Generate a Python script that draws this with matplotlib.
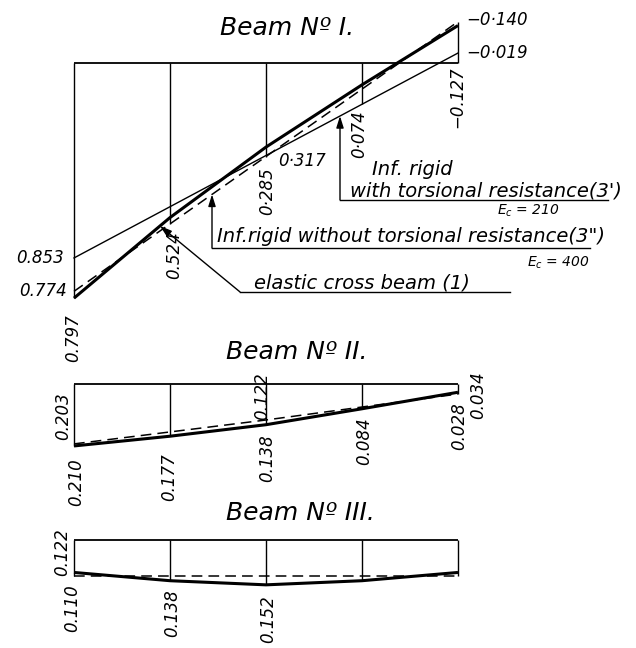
import numpy as np
import matplotlib.pyplot as plt

plt.rcParams['font.family'] = ['DejaVu Sans']
plt.rcParams['mathtext.fontset'] = 'dejavusans'

# girder positions across the bridge (girder 1 .. 5)
girders = [0, 1, 2, 3, 4]

# Beam I : influence ordinates
b1_elastic = [0.797, 0.524, 0.285, 0.074, -0.127]   # elastic cross beam (1)
b1_rigid_x = [0, 2, 4]
b1_rigid = [0.774, 0.317, -0.140]                   # inf. rigid, no torsion (3")
b1_tors_x = [0, 4]
b1_tors = [0.853, -0.019]                           # inf. rigid with torsion (3')

# Beam II
b2_elastic = [0.210, 0.177, 0.138, 0.084, 0.028]
b2_rigid_x = [0, 2, 4]
b2_rigid = [0.203, 0.122, 0.034]

# Beam III
b3_elastic = [0.110, 0.138, 0.152, 0.138, 0.110]
b3_rigid_x = [0, 4]
b3_rigid = [0.122, 0.122]

W, H = 636, 648
X0, DX = 74, 96          # first girder / spacing in pixels
S = 295                  # pixels per unit ordinate
TORS_ZERO, TORS_S = 57.5, 235   # line (3') has its own scale

fig = plt.figure(figsize=(W / 100, H / 100), dpi=100)


def beam_axes(top, bottom, zero, scale=S):
    ax = fig.add_axes([0, 1 - bottom / H, 1, (bottom - top) / H])
    ax.set_xlim(-X0 / DX, (W - X0) / DX)
    ax.set_ylim((bottom - zero) / scale, (top - zero) / scale)
    ax.set_axis_off()
    return ax


def fmt(v, sep='.'):
    s = f'{abs(v):.3f}'.replace('.', sep)
    return ('\u2212' + s) if v < 0 else s


def label(ax, x, y, s, dx, dy, rot=90, ha='center', va='top', size=12):
    ax.annotate(s, (x, y), xytext=(dx, dy), textcoords='offset pixels',
                rotation=rot, ha=ha, va=va, fontsize=size, style='italic')


def verticals(ax, series):
    inv = ax.transData.inverted()
    for xi in girders:
        ys = [ax.transData.transform((xi, 0))[1]]
        for a, xs, vs in series:
            ys.append(a.transData.transform((xi, np.interp(xi, xs, vs)))[1])
        lo = inv.transform((0, min(ys)))[1]
        hi = inv.transform((0, max(ys)))[1]
        ax.vlines(xi, lo, hi, color='k', lw=1.0)
    ax.hlines(0, girders[0], girders[-1], color='k', lw=1.3)


def draw_beam(ax, elastic, rx, rigid):
    ax.plot(girders, elastic, color='k', lw=2.2, solid_capstyle='butt', zorder=3)
    ax.plot(rx, rigid, color='k', lw=1.1, ls=(0, (7, 4)), zorder=2)


arrow = dict(arrowstyle='-|>,head_length=0.7,head_width=0.22', color='k',
             lw=1.0, shrinkA=0, shrinkB=0)

# ---------------- Beam I ----------------
ax1 = beam_axes(0, 335, 63)
ax1t = ax1.twinx()
ax1t.set_ylim((335 - TORS_ZERO) / TORS_S, (0 - TORS_ZERO) / TORS_S)
ax1t.set_axis_off()

draw_beam(ax1, b1_elastic, b1_rigid_x, b1_rigid)
ax1t.plot(b1_tors_x, b1_tors, color='k', lw=1.0)
verticals(ax1, [(ax1, girders, b1_elastic), (ax1, b1_rigid_x, b1_rigid),
                (ax1t, b1_tors_x, b1_tors)])

ax1.text(2.22, -0.119, 'Beam N\u00ba I.', ha='center', va='center',
         fontsize=18, style='italic')

label(ax1, 0, b1_elastic[0], fmt(b1_elastic[0]), -1, -16)
label(ax1, 1, b1_elastic[1], fmt(b1_elastic[1]), 4, -14)
label(ax1, 2, b1_elastic[2], fmt(b1_elastic[2], '\u00b7'), 1, -20)
label(ax1, 3, b1_elastic[3], fmt(b1_elastic[3], '\u00b7'), -3, -25)
label(ax1, 4, b1_elastic[4], fmt(b1_elastic[4]), -1, -41)
label(ax1, 2, b1_rigid[1], fmt(b1_rigid[1], '\u00b7'), 12, -4, rot=0, ha='left', va='center')
label(ax1, 0, b1_rigid[0], fmt(b1_rigid[0]), -7, 0, rot=0, ha='right', va='center')
label(ax1, 4, b1_rigid[2], fmt(b1_rigid[2], '\u00b7'), 8, 2, rot=0, ha='left', va='center')
label(ax1t, 0, b1_tors[0], fmt(b1_tors[0]), -10, 0, rot=0, ha='right', va='center')
label(ax1t, 4, b1_tors[1], fmt(b1_tors[1], '\u00b7'), 8, 0, rot=0, ha='left', va='center')

# leader: rigid with torsion (3')
xa = (340 - X0) / DX
ax1.annotate('', xy=(xa, np.interp(xa, b1_tors_x, b1_tors)), xycoords=ax1t.transData,
             xytext=(xa, 0.464), textcoords='data', arrowprops=arrow)
ax1.plot([xa, 5.56], [0.464, 0.464], color='k', lw=1.0)
ax1.text(3.10, 0.380, 'Inf. rigid', fontsize=14, style='italic', va='baseline')
ax1.text(2.875, 0.451, "with torsional resistance(3')", fontsize=14,
         style='italic', va='baseline')
ax1.text(4.41, 0.502, r'$E_c$ = 210', fontsize=10, style='italic', va='center')

# leader: rigid without torsion (3")
xb = (212 - X0) / DX
ax1.annotate('', xy=(xb, np.interp(xb, b1_rigid_x, b1_rigid)),
             xytext=(xb, 0.627), arrowprops=arrow)
ax1.plot([xb, 5.375], [0.627, 0.627], color='k', lw=1.0)
ax1.text(1.49, 0.607, 'Inf.rigid without torsional resistance(3")', fontsize=14,
         style='italic', va='baseline')
ax1.text(4.72, 0.678, r'$E_c$ = 400', fontsize=10, style='italic', va='center')

# leader: elastic cross beam (1)
xc = (160 - X0) / DX
ax1.annotate('', xy=(xc, np.interp(xc, girders, b1_elastic)),
             xytext=(1.729, 0.776), arrowprops=arrow)
ax1.plot([1.729, 4.54], [0.776, 0.776], color='k', lw=1.0)
ax1.text(1.88, 0.763, 'elastic cross beam (1)', fontsize=14, style='italic',
         va='baseline')

# ---------------- Beam II ----------------
ax2 = beam_axes(335, 505, 384)
draw_beam(ax2, b2_elastic, b2_rigid_x, b2_rigid)
verticals(ax2, [(ax2, girders, b2_elastic), (ax2, b2_rigid_x, b2_rigid)])
ax2.text(2.32, -0.108, 'Beam N\u00ba II.', ha='center', va='center',
         fontsize=18, style='italic')

label(ax2, 0, b2_rigid[0], fmt(b2_rigid[0]), -11, 4, va='bottom')
label(ax2, 0, b2_elastic[0], fmt(b2_elastic[0]), 2, -12)
label(ax2, 1, b2_elastic[1], fmt(b2_elastic[1]), -1, -17)
label(ax2, 2, b2_rigid[1], fmt(b2_rigid[1]), -4, 0, va='bottom')
label(ax2, 2, b2_elastic[2], fmt(b2_elastic[2]), 1, -10)
label(ax2, 3, b2_elastic[3], fmt(b2_elastic[3]), 2, -8)
label(ax2, 4, b2_elastic[4], fmt(b2_elastic[4]), 1, -10)
label(ax2, 4, b2_rigid[2], fmt(b2_rigid[2]), 20, -25, va='bottom')

# ---------------- Beam III ----------------
ax3 = beam_axes(505, 648, 540)
draw_beam(ax3, b3_elastic, b3_rigid_x, b3_rigid)
verticals(ax3, [(ax3, girders, b3_elastic), (ax3, b3_rigid_x, b3_rigid)])
ax3.text(2.354, -0.092, 'Beam N\u00ba III.', ha='center', va='center',
         fontsize=18, style='italic')

label(ax3, 0, b3_rigid[0], fmt(b3_rigid[0]), -12, 0, va='bottom')
label(ax3, 0, b3_elastic[0], fmt(b3_elastic[0]), -2, -12)
label(ax3, 1, b3_elastic[1], fmt(b3_elastic[1]), 2, -9)
label(ax3, 2, b3_elastic[2], fmt(b3_elastic[2]), 2, -10)

fig.savefig('out.png', dpi=100, facecolor='white')
